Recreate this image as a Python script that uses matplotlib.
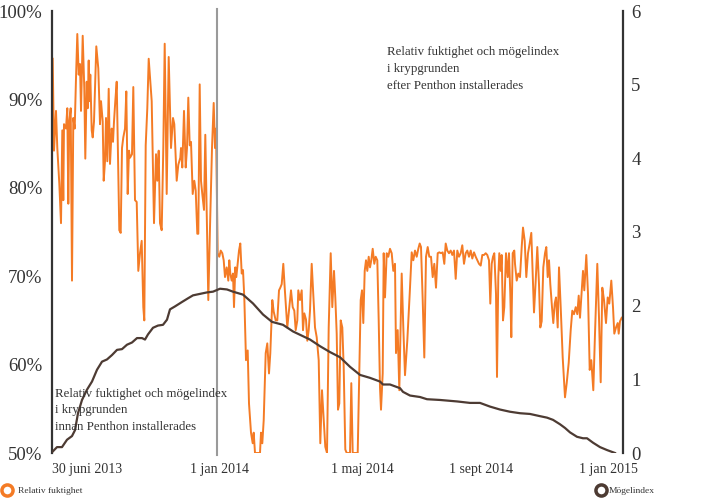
import matplotlib
matplotlib.use("Agg")
import matplotlib.pyplot as plt
from matplotlib.lines import Line2D
import numpy as np

plt.rcParams['font.family'] = ['Liberation Serif', 'DejaVu Serif']

# Relativ fuktighet (%), sample position along the time axis
rh_pos = [
    0.7, 2, 4, 5.3, 7.3, 9, 10.3, 11.3, 12, 14,
    15.3, 16.3, 17.3, 18.7, 20, 21.3, 22.7, 24, 25.3, 26.7,
    28, 29, 30.7, 32.3, 33.3, 34.7, 35.7, 36.7, 37.3, 38.3,
    39.7, 40.7, 42, 44.3, 46.3, 48, 49, 50.7, 51.7, 53,
    54, 55.3, 56.7, 58, 59.7, 61, 62, 63.3, 64.7, 66,
    67.3, 68.7, 70, 71.3, 73, 74.3, 75.7, 77, 78, 80,
    81.3, 83, 84.7, 86.3, 88, 89.7, 91.3, 92.3, 93.7, 95.3,
    96.7, 99.7, 102, 104, 105.3, 106.7, 108, 109.7, 111.3, 112.7,
    114.7, 116.7,
    119, 121, 122.3, 124.7, 126.3, 128.3, 129, 130.3, 132, 133.7,
    135, 136.3, 137.7, 139, 140.7, 142.3, 143.7, 145.3, 146.3, 147.7,
    149, 150.3, 152, 153.3, 154.7, 156.3, 158, 160, 161.7, 163,
    164, 165.7, 167.3, 168.7, 170.3, 171.7, 173, 174.7, 176.3, 177.3,
    178.3, 179.7, 181, 182, 183.3, 184.3, 185.7, 187, 188.3, 189.7,
    191, 192.3, 194, 195.7, 197, 199, 200.7, 201.7, 203, 206.3,
    208, 209, 210.3, 211.7, 213.7, 215.3, 217, 218.3, 220.3, 221.7,
    223.7, 225.3, 227, 228.3, 229.7, 231.3, 232.7,
    235.3, 237, 239, 240.7, 242.3, 243.7, 245.3, 246.3, 248, 249.7,
    251, 252.3, 254, 255.3, 256.7, 258, 259.7, 261.3, 263, 264.7,
    266.7, 268.3, 270, 271.7, 273.3, 275, 276.7, 278.7, 280.3, 282,
    283.3, 284.7, 286, 287.3, 288.7, 290.3, 291.7, 293.3, 294.7, 298,
    299.3, 300.7, 305.7, 307, 308.7, 310, 311.3, 312.7, 314, 315.3,
    316.7, 318, 319.3, 320.7, 322.3, 323.7, 325.3, 326.7, 328, 329,
    330.7, 331.7, 333, 334.7, 336.3, 338, 339.7, 341.3, 343,
    344, 345.7, 347.3, 349.7, 351.3, 353, 355.3, 357.7, 359.7, 361.3,
    363, 364.7, 366.3, 367.7, 369, 370.7, 372.3, 374, 375.7, 377.3,
    379, 380.7, 382.3, 384, 385.7, 387.3, 389, 390.7, 392.3, 393.7,
    395.3, 397, 398.7, 400.3, 402, 403.7, 405.3, 407, 408.7, 410.3,
    412, 413.7, 415.3, 417, 418.7, 420.3, 422, 423.7, 425.3, 427,
    428.7, 430.3, 432, 433.7, 435.3, 437, 438.3, 439.7, 441, 442.3,
    444, 445, 446.3, 447.3, 448.7, 449.7, 451, 452.3, 454, 455.7,
    457, 458.3, 459.3, 460.7, 462.3,
    463, 464.7, 466.3, 468, 469.7, 471, 472.7, 474.3, 476, 477.7,
    479.3, 480.7, 482, 483.7, 485.3, 487, 488.3, 489.7, 491.3, 493,
    494.3, 495.7, 497, 498.3, 500, 501.3, 502.7, 504, 505.7, 507,
    508.7, 510.7, 513, 514.7, 516.7, 518.7, 520.3, 522, 523.7, 525.3,
    526.7, 528, 529.7, 531, 532.3, 534.3, 536, 537.7, 539.3, 541.3,
    543, 545.3, 547, 548.7, 550.3, 552, 554, 555.7, 557.3, 559.3,
    561, 562.3, 564, 565.7, 566.7, 568, 569.7,
]
rh_vals = [
    94.6, 84.2, 88.7, 84.5, 80.5, 76, 86.5, 78.6, 87.2, 86.7,
    89, 78.2, 87.5, 89, 69.5, 87.9, 86.7, 92.4, 97.4, 92.8,
    94, 88.7, 97.2, 91.2, 83.3, 92, 89, 94.4, 89.8, 92.8,
    86.5, 85.7, 87.5, 96, 93.5, 87.2, 89.8, 87.5, 80.8, 83,
    87.9, 83, 91.2, 82.7, 86.7, 85.2, 87.5, 89.8, 92, 83.4,
    75.2, 74.9, 84.5, 85.7, 86.7, 90.9, 79.3, 84.2, 83.4, 83.8,
    91.4, 78.6, 78.4, 70.6, 72.6, 74, 66.5, 65, 84.8, 89,
    94.6, 89.8, 76, 83.8, 80.8, 84.2, 76, 75.2, 84.5, 96.3,
    79.3, 94.8,
    84.5, 87.9, 87.2, 80.8, 82.6, 83.4, 84.5, 82.3, 88.7, 82.3,
    84.5, 90.2, 84.8, 85.2, 79.3, 80.8, 79.7, 74.8, 74.8, 91.7,
    80.8, 79.3, 77.5, 86, 77.5, 67.3, 75.5, 84.5, 89.6, 84.5,
    86.7, 72.6, 72.2, 72.9, 72.6, 71.8, 69.9, 71, 69.5, 71.8,
    70.3, 69.5, 70.3, 66.5, 71, 69.9, 71.4, 72.9, 73.7, 70.3,
    70.7, 67.6, 60.5, 61.6, 55.6, 52.3, 51.1, 52.3, 50, 50,
    50, 52.3, 51.1, 53.7, 61.3, 62.4, 59, 61.3, 67.3, 66,
    65, 65, 68.4, 68.7, 69.1, 71.4, 68.7,
    64.2, 66.1, 68.4, 66.5, 66.1, 63.9, 65, 68.4, 67.3, 68.4,
    63.9, 65.8, 65.1, 62.7, 63.9, 66.1, 71.4, 68, 64.2, 63.1,
    60.5, 51.1, 57.1, 53.7, 50.7, 50, 64.2, 72.6, 66.5, 70.6,
    67.6, 63.5, 54.9, 55.6, 65, 64.2, 59.7, 50.4, 50, 50,
    57.9, 50, 50, 57.4, 67.3, 68.4, 64.7, 70.6, 71.8, 70.6,
    72.2, 71, 71.8, 73.1, 71.4, 72.2, 71.8, 65, 57.4, 54.9,
    59, 72.6, 67.6, 72.6, 72.2, 73.1, 72.6, 70.6, 71.4,
    61.3, 63.9, 57.1, 70.3, 64.2, 58.8, 62.7, 68, 72.7, 71.8,
    72.9, 72.2, 73.1, 73.7, 73.3, 67.3, 60.8, 72.2, 73.3, 72.2,
    72.2, 69.9, 71.4, 68.7, 72.6, 72.7, 72.6, 72.7, 71.4, 73.7,
    72.9, 72.6, 72.9, 72.4, 72.9, 69.7, 72.9, 72.2, 72.6, 73.5,
    71.4, 72.6, 72.9, 72.2, 72.9, 72, 72.7, 72.2, 71.8, 71.4,
    71.2, 72.4, 72.4, 72.6, 72.4, 71.8, 66.9, 71.4, 72.2, 72.6,
    68, 58.6, 69.9, 72.6, 70.6, 72.4, 65, 66.5, 72.6, 69.9,
    72.6, 68, 63.1, 72.6, 72.9,
    71.4, 69.5, 70.3, 69.9, 73.3, 75.5, 74, 69.9, 72.6, 73.7,
    74.9, 70.3, 65.9, 69.5, 73.3, 69.1, 64.2, 64.9, 71, 72.6,
    73.3, 69.9, 71.8, 69.1, 66.5, 64.7, 66.9, 67.6, 64.2, 71,
    66.5, 60.8, 56.3, 57.9, 60.2, 63.9, 66.1, 65.7, 66.5, 65.7,
    67.8, 65.3, 68.4, 70.6, 68.4, 72.4, 68, 59.4, 60.5, 57.1,
    63.5, 71.4, 65.3, 58, 68.7, 67.3, 64.7, 67.6, 66.9, 69.5,
    66.5, 63.5, 64.2, 64.7, 63.5, 64.9, 65.3,
]

# Mögelindex (0-6)
mold_pos = [
    0, 5, 10, 15, 20, 23, 26, 30, 35, 40,
    45, 50, 55, 60, 65, 70, 75, 80, 85, 90,
    93, 96, 101, 106, 111, 115, 118, 123, 130, 136,
    141, 148, 155, 161, 168, 175, 181, 191, 201, 211,
    220, 231, 241, 258, 268, 278, 288, 298, 308, 318,
    328, 331, 338, 348, 351, 358, 368, 375, 388, 405,
    418, 428, 438, 448, 458, 468, 478, 488, 495, 501,
    508, 513, 518, 525, 531, 535, 541, 548, 555, 563,
]
mold_vals = [
    0.01, 0.08, 0.08, 0.18, 0.23, 0.31, 0.54, 0.72, 0.86, 0.97,
    1.13, 1.24, 1.27, 1.33, 1.40, 1.41, 1.47, 1.50, 1.56, 1.56,
    1.54, 1.61, 1.70, 1.73, 1.74, 1.81, 1.95, 1.99, 2.05, 2.10,
    2.14, 2.16, 2.18, 2.19, 2.23, 2.22, 2.19, 2.15, 2.03, 1.88,
    1.78, 1.74, 1.65, 1.54, 1.45, 1.37, 1.30, 1.17, 1.06, 1.02,
    0.97, 0.93, 0.93, 0.88, 0.83, 0.78, 0.76, 0.73, 0.72, 0.70,
    0.68, 0.68, 0.63, 0.59, 0.56, 0.54, 0.53, 0.50, 0.48, 0.45,
    0.39, 0.34, 0.28, 0.22, 0.20, 0.20, 0.14, 0.08, 0.04, 0.0,
]

tick_pos = [0, 167, 310, 429, 556]
tick_labels = ['30 juni 2013', '1 jan 2014', '1 maj 2014', '1 sept 2014', '1 jan 2015']
install_pos = 165

orange = '#f47b25'
brown = '#4d3b33'
dark = '#333333'

fig = plt.figure(figsize=(7.1, 5), dpi=100)
ax = fig.add_axes([52 / 710, 47 / 500, 571 / 710, 442 / 500])
ax2 = ax.twinx()

ax.plot(rh_pos, rh_vals, color=orange, lw=1.4, solid_joinstyle='round')
ax2.plot(mold_pos, mold_vals, color=brown, lw=1.6)
ax.axvline(install_pos, ymin=-0.005, ymax=1.005, color='#9a9a9a', lw=1.5, clip_on=False)

ax.set_xlim(0, 571)
ax.set_ylim(50, 100)
ax2.set_ylim(0, 6)

for s in ['top', 'bottom', 'right']:
    ax.spines[s].set_visible(False)
for s in ['top', 'bottom', 'left']:
    ax2.spines[s].set_visible(False)
ax.spines['left'].set_color(dark)
ax.spines['left'].set_linewidth(1.6)
ax2.spines['right'].set_color(dark)
ax2.spines['right'].set_linewidth(1.6)

ax.set_yticks([50, 60, 70, 80, 90, 100])
ax.set_yticklabels([f'{v}%' for v in [50, 60, 70, 80, 90, 100]])
ax.tick_params(axis='y', length=0, pad=7, labelsize=13.5, labelcolor=dark)
ax2.set_yticks(range(7))
ax2.tick_params(axis='y', length=0, pad=6, labelsize=13.5, labelcolor=dark)
ax.get_yticklabels()[-1].set_verticalalignment('center_baseline')
ax2.get_yticklabels()[-1].set_verticalalignment('center_baseline')

ax.set_xticks(tick_pos)
ax.set_xticklabels(tick_labels)
ax.tick_params(axis='x', length=0, pad=7, labelsize=10, labelcolor=dark)
ax.get_xticklabels()[0].set_horizontalalignment('left')

fig.text(387 / 710, 1 - 46 / 500,
         'Relativ fuktighet och mögelindex\ni krypgrunden\nefter Penthon installerades',
         fontsize=9.3, color=dark, va='top', ha='left', linespacing=1.55)
fig.text(55 / 710, 1 - 388 / 500,
         'Relativ fuktighet och mögelindex\ni krypgrunden\ninnan Penthon installerades',
         fontsize=9.3, color=dark, va='top', ha='left', linespacing=1.5)

# legend markers at the bottom
fig.add_artist(Line2D([7 / 710], [10 / 500], marker='o', ms=8, mfc='white', mec=orange,
                      mew=2.5, transform=fig.transFigure))
fig.text(18 / 710, 9 / 500, 'Relativ fuktighet', fontsize=6.8, color=dark, va='center')
fig.add_artist(Line2D([601 / 710], [10 / 500], marker='o', ms=8, mfc='white', mec=brown,
                      mew=2.5, transform=fig.transFigure))
fig.text(609 / 710, 9 / 500, 'Mögelindex', fontsize=6.8, color=dark, va='center')

fig.savefig('out.png', dpi=100)
